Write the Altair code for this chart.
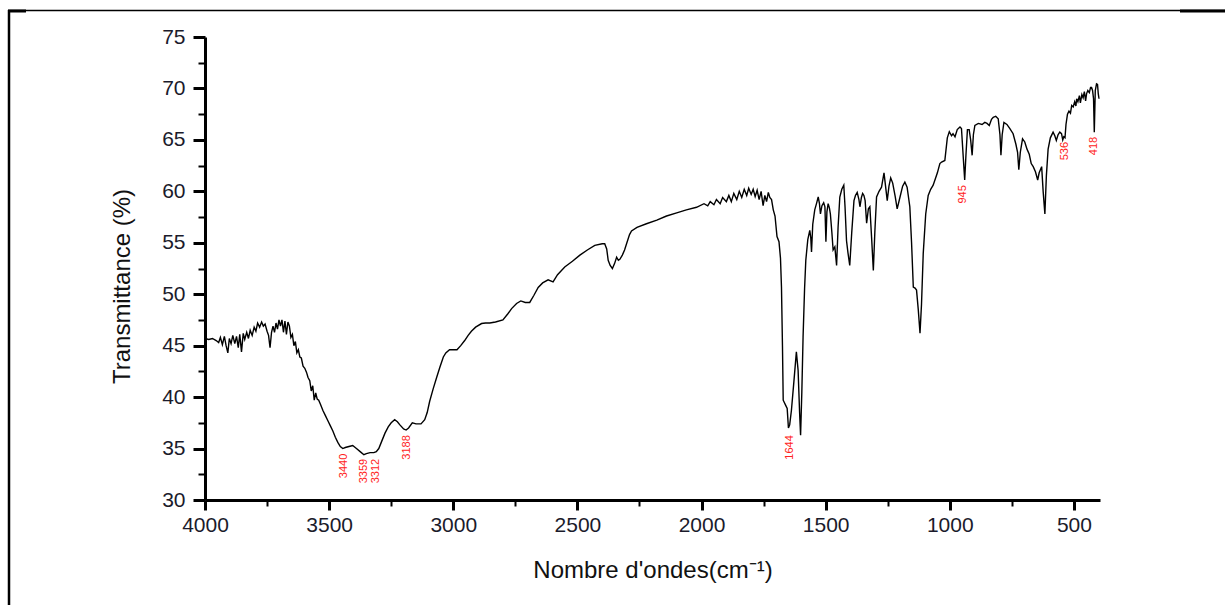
import altair as alt
import pandas as pd

# ---- spectrum (wavenumber in cm-1, transmittance in %) ----
wavenumber = [
    4000, 3985, 3970, 3955, 3945, 3938, 3930, 3922, 3915, 3908, 3902, 3895, 3888, 3880,
    3873, 3866, 3860, 3853, 3846, 3840, 3832, 3825, 3818, 3810, 3802, 3795, 3788, 3780,
    3772, 3765, 3758, 3750, 3744, 3738, 3732, 3726, 3720, 3714, 3708, 3702, 3696, 3690,
    3684, 3678, 3672, 3666, 3660, 3654, 3648, 3642, 3636, 3630, 3624, 3618, 3612, 3605,
    3598, 3591, 3585, 3578, 3572, 3566, 3560, 3554, 3548, 3542, 3535, 3525, 3515, 3505,
    3495, 3485, 3475, 3465, 3455, 3445, 3435, 3420, 3405, 3390, 3375, 3360, 3350, 3335,
    3320, 3310, 3300, 3290, 3275, 3262, 3250, 3236, 3225, 3215, 3200, 3190, 3180, 3165,
    3150, 3130, 3115, 3105, 3095, 3081, 3067, 3054, 3040, 3030, 3015, 3000, 2985, 2970,
    2954, 2940, 2927, 2910, 2886, 2870, 2853, 2830, 2800, 2780, 2765, 2745, 2728, 2710,
    2692, 2675, 2658, 2640, 2618, 2598, 2580, 2551, 2520, 2490, 2460, 2430, 2400, 2390,
    2382, 2376, 2368, 2359, 2350, 2342, 2335, 2329, 2319, 2310, 2302, 2290, 2282, 2260,
    2222, 2180, 2141, 2100, 2061, 2020, 1990, 1975, 1965, 1950, 1940, 1925, 1915, 1900,
    1890, 1880, 1870, 1858, 1848, 1838, 1828, 1818, 1810, 1800, 1792, 1784, 1776, 1768,
    1760, 1752, 1745, 1738, 1731, 1725, 1718, 1711, 1704, 1696, 1688, 1682, 1678, 1674,
    1671, 1661, 1655, 1650, 1645, 1638, 1628, 1618, 1611, 1605, 1601, 1596, 1591, 1585,
    1580, 1572, 1564, 1560, 1557, 1552, 1544, 1537, 1530, 1525, 1521, 1515, 1508, 1503,
    1499, 1495, 1490, 1485, 1481, 1475, 1470, 1463, 1456, 1450, 1443, 1435, 1427, 1422,
    1416, 1410, 1403, 1395, 1386, 1380, 1373, 1366, 1362, 1356, 1351, 1346, 1341, 1335,
    1328, 1322, 1315, 1308, 1302, 1295, 1285, 1275, 1265, 1252, 1245, 1238, 1230, 1220,
    1212, 1200, 1190, 1181, 1172, 1161, 1154, 1147, 1140, 1134, 1127, 1120, 1114, 1107,
    1097, 1087, 1077, 1067, 1050, 1040, 1033, 1020, 1010, 1002, 993, 987, 979, 970,
    959, 953, 945, 940, 935, 929, 922, 916, 910, 905, 899, 885, 870, 859,
    850, 841, 832, 825, 815, 805, 798, 794, 789, 782, 770, 758, 745, 734,
    727, 722, 716, 707, 698, 689, 680, 672, 664, 655, 646, 640, 630, 624,
    617, 611, 604, 595, 584, 577, 571, 564, 557, 550, 545, 541, 536, 532,
    526, 520, 514, 509, 503, 497, 492, 489, 484, 478, 474, 468, 463, 458,
    453, 449, 444, 438, 433, 429, 425, 421, 418, 414, 409, 405, 402, 399,
]
transmittance = [
    45.7, 45.6, 45.7, 45.5, 45.3, 45.8, 45.1, 45.9, 45.0, 44.3, 45.7, 45.2, 46.0, 45.2,
    45.9, 44.8, 46.1, 44.4, 46.2, 45.6, 46.3, 45.7, 46.5, 46.0, 46.8, 46.4, 47.2, 46.8,
    47.3, 46.9, 47.1, 46.4, 46.0, 44.8, 46.3, 46.9, 46.3, 47.2, 46.6, 47.5, 46.9, 47.5,
    46.3, 47.4, 46.1, 47.3, 46.9, 45.8, 46.1, 45.0, 45.4, 44.3, 44.6, 43.9, 43.8, 43.0,
    42.8, 42.4, 41.9, 41.6, 40.6, 41.1, 39.7, 40.4, 39.8, 39.7, 39.3, 38.7, 38.2, 37.7,
    37.2, 36.7, 36.1, 35.6, 35.2, 35.0, 35.1, 35.2, 35.3, 35.0, 34.7, 34.4, 34.5, 34.6,
    34.6, 34.7, 35.0, 35.6, 36.5, 37.1, 37.5, 37.8, 37.6, 37.3, 36.9, 36.8, 37.0, 37.5,
    37.4, 37.4, 37.8, 38.5, 39.6, 40.8, 41.9, 42.9, 43.9, 44.3, 44.6, 44.6, 44.6, 45.0,
    45.5, 46.0, 46.4, 46.8, 47.15, 47.2, 47.2, 47.3, 47.5, 48.1, 48.6, 49.1, 49.35, 49.2,
    49.2, 49.9, 50.65, 51.1, 51.4, 51.2, 51.9, 52.65, 53.2, 53.8, 54.3, 54.75, 54.9, 54.9,
    54.4, 53.3, 52.8, 52.5, 53.0, 53.6, 53.3, 53.4, 53.8, 54.3, 54.9, 55.8, 56.15, 56.5,
    56.85, 57.2, 57.6, 57.9, 58.2, 58.45, 58.8, 58.6, 59.0, 58.7, 59.2, 58.8, 59.4, 59.0,
    59.6, 59.0, 59.8, 59.2, 60.0, 59.4, 60.2, 59.6, 60.3, 59.7, 60.2, 59.5, 60.1, 59.2,
    60.0, 58.6, 59.6, 59.0, 59.9, 59.4, 59.2, 58.2, 57.6, 55.6, 55.1, 53.5, 50.7, 45.0,
    39.7, 39.2, 38.9, 37.0, 37.3, 38.7, 41.5, 44.4, 42.6, 38.5, 36.3, 40.5, 45.85, 50.5,
    53.3, 55.3, 56.2, 55.5, 54.1, 56.8, 58.2, 58.8, 59.45, 58.8, 57.8, 58.6, 58.9, 58.5,
    55.1, 58.0, 58.8, 58.4, 57.8, 56.0, 54.3, 54.6, 52.8, 56.5, 59.45, 60.2, 60.6, 58.5,
    55.2, 54.0, 52.8, 56.0, 59.1, 59.6, 59.9, 59.2, 58.5, 59.4, 59.8, 59.6, 59.1, 56.9,
    58.3, 58.5, 55.5, 52.3, 56.0, 59.45, 60.0, 60.4, 61.8, 59.1, 60.5, 61.3, 60.8, 59.5,
    58.3, 59.5, 60.5, 60.9, 60.4, 58.5, 55.0, 50.7, 50.6, 50.4, 48.5, 46.2, 49.0, 53.95,
    57.8, 59.6, 60.2, 60.6, 61.8, 62.7, 62.85, 63.0, 65.2, 65.8, 65.4, 65.6, 65.3, 66.0,
    66.25, 66.1, 63.0, 61.1, 63.5, 66.0, 66.0, 65.0, 63.5, 65.5, 66.4, 66.6, 66.5, 66.7,
    66.6, 66.4, 67.0, 67.2, 67.3, 67.05, 65.5, 63.5, 65.5, 66.7, 66.5, 66.1, 65.6, 64.6,
    63.8, 62.1, 63.8, 65.1, 64.8, 64.1, 63.6, 62.7, 62.4, 61.9, 61.1, 61.8, 62.4, 60.0,
    57.8, 61.5, 64.1, 65.2, 65.75, 65.4, 64.95, 65.5, 65.75, 65.6, 65.0, 65.3, 65.2, 66.5,
    67.5, 67.8, 67.6, 68.35, 68.2, 68.7, 68.3, 69.0, 68.7, 69.3, 68.6, 69.4, 69.1, 69.7,
    68.8, 69.5, 69.8, 69.6, 70.1, 70.1, 69.8, 69.0, 65.75, 69.8, 70.45, 70.4, 69.5, 69.0,
]

# ---- peak annotations ----
peak_labels = ["3440", "3359", "3312", "3188", "1644", "945", "536", "418"]
peak_wavenumber = [3440, 3359, 3312, 3188, 1644, 945, 536, 418]
peak_label_top = [34.5, 34.0, 34.0, 36.3, 36.3, 60.6, 64.8, 65.3]

# ---- axis ticks ----
x_ticks = list(range(4000, 499, -250))
y_ticks = [30 + 2.5 * i for i in range(19)]

spec = pd.DataFrame({"wn": wavenumber, "T": transmittance})
ann = pd.DataFrame({"label": peak_labels, "wn": peak_wavenumber, "T": peak_label_top})
one = pd.DataFrame({"k": [0]})

FONT = "Liberation Sans"
TXT = "#1b1b2b"

x_scale = alt.Scale(domain=[395, 4000], reverse=True, nice=False, zero=False)
y_scale = alt.Scale(domain=[30, 75], nice=False, zero=False)

x_axis = alt.Axis(
    values=x_ticks,
    format="d",
    labelExpr="datum.value % 500 === 0 ? datum.label : ''",
    tickSize={"condition": {"test": "datum.value % 500 === 0", "value": 10}, "value": 6},
    tickWidth={"condition": {"test": "datum.value % 500 === 0", "value": 3}, "value": 2},
    tickColor="black",
    domainColor="black",
    domainWidth=3,
    labelFont=FONT,
    labelFontSize=21,
    labelColor=TXT,
    labelPadding=4,
    labelFlush=False,
    labelOverlap=False,
    grid=False,
    title="Nombre d'ondes(cm⁻¹)",
    titleFont=FONT,
    titleFontSize=24,
    titleFontWeight="normal",
    titleColor="#111111",
    titlePadding=23,
)

y_axis = alt.Axis(
    values=y_ticks,
    labelExpr="datum.value % 5 === 0 ? datum.label : ''",
    tickSize={"condition": {"test": "datum.value % 5 === 0", "value": 12}, "value": 7},
    tickWidth={"condition": {"test": "datum.value % 5 === 0", "value": 3}, "value": 2},
    tickColor="black",
    domainColor="black",
    domainWidth=3,
    labelFont=FONT,
    labelFontSize=21,
    labelColor=TXT,
    labelPadding=8,
    labelFlush=False,
    labelOverlap=False,
    grid=False,
    title="Transmittance (%)",
    titleFont=FONT,
    titleFontSize=24,
    titleFontWeight="normal",
    titleColor="#111111",
    titlePadding=27,
    titleY=249,
)

line = alt.Chart(spec).mark_line(color="black", strokeWidth=1.4).encode(
    x=alt.X("wn:Q", scale=x_scale, axis=x_axis),
    y=alt.Y("T:Q", scale=y_scale, axis=y_axis),
)

labels = alt.Chart(ann).mark_text(
    angle=270, align="right", baseline="middle", color="#ff2222", fontSize=11, font=FONT
).encode(
    x=alt.X("wn:Q", scale=x_scale, axis=x_axis),
    y=alt.Y("T:Q", scale=y_scale, axis=y_axis),
    text="label:N",
)

# page frame (decoration around the figure)
frame_left = alt.Chart(one).mark_rule(color="black", strokeWidth=2.5).encode(
    x=alt.value(-196), y=alt.value(-27), y2=alt.value(568)
)
frame_top = alt.Chart(one).mark_rule(color="black", strokeWidth=1.5).encode(
    x=alt.value(-197), x2=alt.value(1020), y=alt.value(-26.5)
)
frame_top_right = alt.Chart(one).mark_rule(color="black", strokeWidth=3).encode(
    x=alt.value(975), x2=alt.value(1020), y=alt.value(-26)
)
frame_top_left = alt.Chart(one).mark_rule(color="black", strokeWidth=3).encode(
    x=alt.value(-197), x2=alt.value(-179), y=alt.value(-26)
)

chart = (
    alt.layer(line, labels, frame_left, frame_top, frame_top_right, frame_top_left)
    .properties(
        width=895,
        height=463,
        autosize=alt.AutoSizeParams(type="none"),
        padding={"left": 205, "top": 37, "right": 125, "bottom": 105},
        background="white",
    )
    .configure_view(stroke=None)
)

chart.save("out.html", embed_options={"renderer": "svg", "actions": False})
